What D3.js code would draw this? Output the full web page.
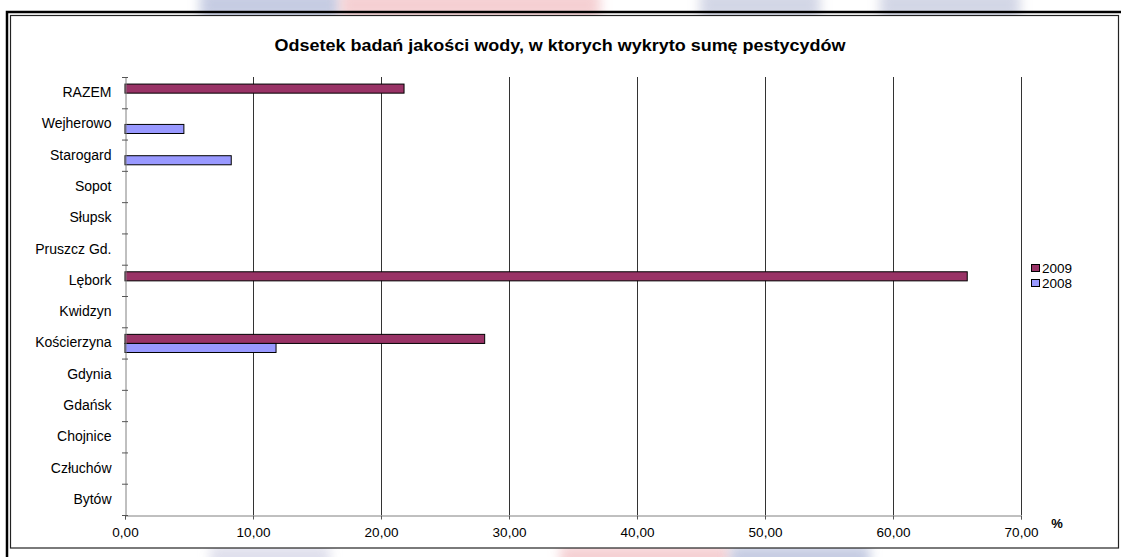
<!DOCTYPE html>
<html><head><meta charset="utf-8">
<script src="https://cdn.jsdelivr.net/npm/d3@7"></script>
<style>
html,body{margin:0;padding:0;background:#fff;}
svg{display:block;font-family:"Liberation Sans",Arial,sans-serif;}
</style></head>
<body><svg id="c" width="1121" height="557"></svg>
<script>
const title = "Odsetek badań jakości wody, w ktorych wykryto sumę pestycydów";
const categories = ["RAZEM","Wejherowo","Starogard","Sopot","Słupsk","Pruszcz Gd.","Lębork","Kwidzyn","Kościerzyna","Gdynia","Gdańsk","Chojnice","Człuchów","Bytów"];
const seriesNames = ["2009","2008"];
const values2009 = [21.8,0,0,0,0,0,65.8,0,28.1,0,0,0,0,0];
const values2008 = [0,4.6,8.3,0,0,0,0,0,11.8,0,0,0,0,0];
const xTicks = [0,10,20,30,40,50,60,70];
const colors = {"2009":"#993366","2008":"#9999FF"};

const svg = d3.select("#c");
// faint watermark outside the frame
const defs = svg.append("defs");
const f = defs.append("filter").attr("id","blur").attr("x","-50%").attr("y","-50%").attr("width","200%").attr("height","200%");
f.append("feGaussianBlur").attr("stdDeviation",6);
const wm = [
  [200,-10,140,30,"#b8c0dc"],[340,-10,260,30,"#f3c4c8"],[700,-10,120,30,"#c8cce0"],[880,-10,140,30,"#c8cce0"],
  [560,545,170,30,"#f3c4c8"],[730,545,140,30,"#b8c0dc"],[210,545,120,30,"#d8d8e8"]
];
svg.selectAll("rect.wm").data(wm).join("rect").attr("class","wm")
  .attr("x",d=>d[0]).attr("y",d=>d[1]).attr("width",d=>d[2]).attr("height",d=>d[3])
  .attr("fill",d=>d[4]).attr("opacity",0.8).attr("filter","url(#blur)");

// outer heavy frame (partially visible)
svg.append("rect").attr("x",7).attr("y",12).attr("width",1130).attr("height",560)
  .attr("fill","none").attr("stroke","#000").attr("stroke-width",2.5);
// chart frame
svg.append("rect").attr("x",10.5).attr("y",15.5).attr("width",1108).attr("height",532.5)
  .attr("fill","#fff").attr("stroke","#222").attr("stroke-width",1.2);

const m = {l:125, r:1021, t:77, b:515};
const x = d3.scaleLinear().domain([0,70]).range([m.l,m.r]);
const y = d3.scaleBand().domain(categories).range([m.t,m.b]).paddingInner(0.42).paddingOuter(0.21);
const ys = d3.scaleBand().domain(seriesNames).range([0,y.bandwidth()]);

svg.append("text").attr("x",560).attr("y",51).attr("text-anchor","middle")
  .attr("font-size",16).attr("font-weight","bold")
  .attr("textLength",571).attr("lengthAdjust","spacingAndGlyphs").text(title);

// gridlines
svg.append("g").selectAll("line").data(xTicks.slice(1)).join("line")
  .attr("x1",d=>x(d)+0.5).attr("x2",d=>x(d)+0.5).attr("y1",m.t).attr("y2",m.b)
  .attr("stroke","#333").attr("stroke-width",1);

// bars
const data = [];
categories.forEach((c,i)=>{
  data.push({c, s:"2009", v:values2009[i]});
  data.push({c, s:"2008", v:values2008[i]});
});
svg.append("g").selectAll("rect").data(data.filter(d=>d.v>0)).join("rect")
  .attr("x",x(0)).attr("y",d=>y(d.c)+ys(d.s)+0.5)
  .attr("width",d=>x(d.v)-x(0)).attr("height",ys.bandwidth())
  .attr("fill",d=>colors[d.s]).attr("stroke","#000").attr("stroke-width",1);

// x axis
const xa = svg.append("g").attr("transform",`translate(0,${m.b+0.5})`)
  .call(d3.axisBottom(x).tickValues(xTicks).tickSize(4).tickPadding(8)
    .tickFormat(d=>d3.format(".2f")(d).replace(".",",")));
xa.select(".domain").attr("stroke","#808080");
xa.selectAll(".tick line").attr("stroke","#555");
xa.selectAll("text").attr("font-size",13.5).attr("fill","#000").attr("font-family","Liberation Sans, Arial, sans-serif");

// y axis
const ya = svg.append("g").attr("transform",`translate(${m.l+0.5},0)`)
  .call(d3.axisLeft(y).tickSize(0).tickPadding(14));
ya.select(".domain").attr("stroke","#808080");
ya.selectAll("text").attr("font-size",14).attr("fill","#000").attr("font-family","Liberation Sans, Arial, sans-serif");
const st = y.step();
svg.append("g").selectAll("line").data(d3.range(categories.length+1)).join("line")
  .attr("x1",m.l-3).attr("x2",m.l+3)
  .attr("y1",i=>m.t+i*st+0.5).attr("y2",i=>m.t+i*st+0.5)
  .attr("stroke","#555");

svg.append("text").attr("x",1057).attr("y",528).attr("text-anchor","middle")
  .attr("font-size",13).attr("font-weight","bold").text("%");

// legend
const lg = svg.append("g").attr("transform","translate(1031,264)");
seriesNames.forEach((s,i)=>{
  lg.append("rect").attr("x",0.5).attr("y",i*15+0.5).attr("width",8).attr("height",7)
    .attr("fill",colors[s]).attr("stroke","#000");
  lg.append("text").attr("x",11).attr("y",i*15+9).attr("font-size",13.5).text(s);
});
</script></body></html>
